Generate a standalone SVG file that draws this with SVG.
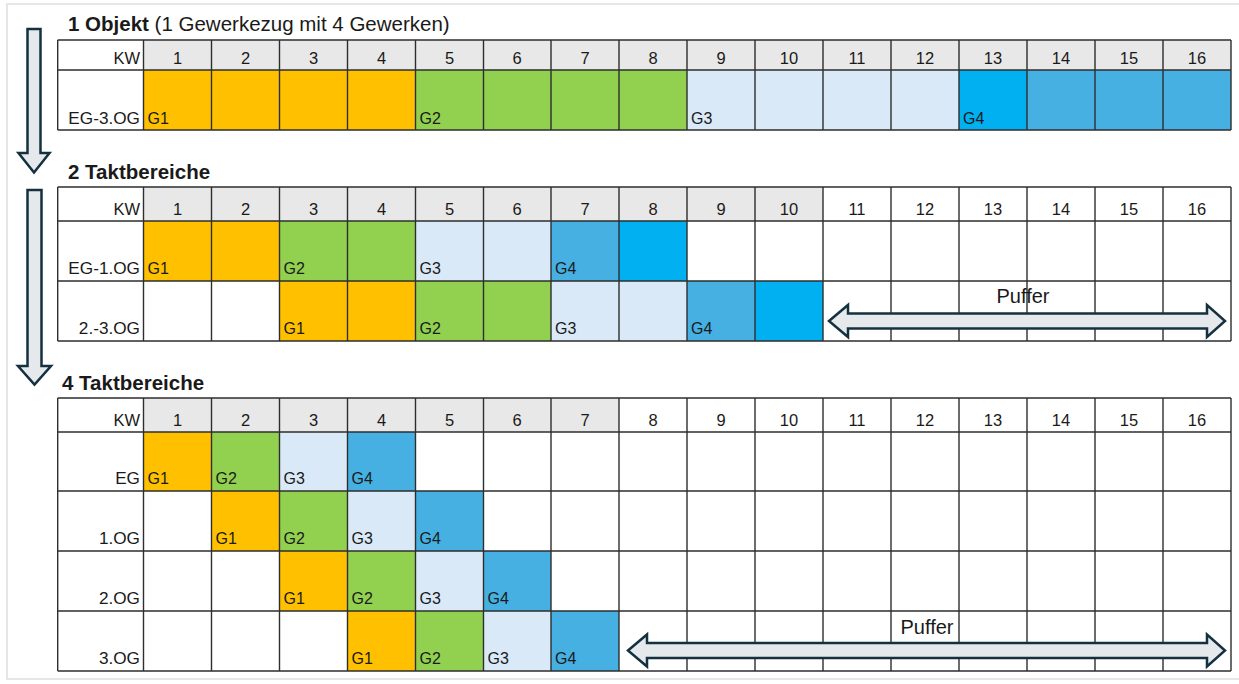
<svg xmlns="http://www.w3.org/2000/svg" width="1239" height="684" viewBox="0 0 1239 684">
<style>
.t{font-family:"Liberation Sans",Arial,sans-serif;fill:#1a1a1a}
.ttl{font-size:20.5px}
.b{font-weight:bold}
.h{font-size:16.5px;text-anchor:middle}
.kw{font-size:16.5px;text-anchor:end}
.rl{font-size:17.2px;text-anchor:end}
.g{font-size:16px}
.pf{font-size:20px;text-anchor:middle}
.grid{fill:none;stroke:#2e2e2e;stroke-width:1.4}
.hd{fill:#e8e8e8}
.o{fill:#FFC000}
.gr{fill:#92D050}
.lb{fill:#DAE9F7}
.mb{fill:#45B0E1}
.bb{fill:#00B0F0}
.arr{fill:#e6e9eb;stroke:#15303f;stroke-width:2.5;stroke-linejoin:miter}
</style>
<rect x="0" y="0" width="1239" height="684" fill="#ffffff"/>
<rect x="7" y="4" width="1240" height="675" fill="none" stroke="#e6e6e6" stroke-width="2"/>

<g id="table1">
<text class="t ttl" x="68" y="31"><tspan class="b">1 Objekt</tspan> (1 Gewerkezug mit 4 Gewerken)</text>
<rect class="hd" x="143.5" y="40" width="1087.5" height="30"/>
<rect class="o" x="143.5" y="70" width="272" height="60"/>
<rect class="gr" x="415.5" y="70" width="271.5" height="60"/>
<rect class="lb" x="687" y="70" width="272" height="60"/>
<rect class="bb" x="959" y="70" width="68" height="60"/>
<rect class="mb" x="1027" y="70" width="204" height="60"/>
<path class="grid" d="M57.7,40H1231M57.7,70H1231M57.7,130H1231M57.7,40V130M143.5,40V130M211.5,40V130M279.5,40V130M347.5,40V130M415.5,40V130M483.5,40V130M551,40V130M619,40V130M687,40V130M755,40V130M823,40V130M891,40V130M959,40V130M1027,40V130M1095,40V130M1163,40V130M1231,40V130"/>
<g class="t h">
<text x="177.5" y="63.5">1</text><text x="245.5" y="63.5">2</text><text x="313.5" y="63.5">3</text><text x="381.5" y="63.5">4</text><text x="449.5" y="63.5">5</text><text x="517" y="63.5">6</text><text x="585" y="63.5">7</text><text x="653" y="63.5">8</text><text x="721" y="63.5">9</text><text x="789" y="63.5">10</text><text x="857" y="63.5">11</text><text x="925" y="63.5">12</text><text x="993" y="63.5">13</text><text x="1061" y="63.5">14</text><text x="1129" y="63.5">15</text><text x="1197" y="63.5">16</text>
</g>
<text class="t kw" x="140" y="63.5">KW</text>
<text class="t rl" x="140" y="123.5">EG-3.OG</text>
<g class="t g">
<text x="147.5" y="123.5">G1</text><text x="419.5" y="123.5">G2</text><text x="691" y="123.5">G3</text><text x="963" y="123.5">G4</text>
</g>
</g>

<g id="table2">
<text class="t ttl b" x="68" y="179">2 Taktbereiche</text>
<rect class="hd" x="143.5" y="187" width="679.5" height="34"/>
<rect class="o" x="143.5" y="221" width="136" height="60"/>
<rect class="gr" x="279.5" y="221" width="136" height="60"/>
<rect class="lb" x="415.5" y="221" width="135.5" height="60"/>
<rect class="mb" x="551" y="221" width="68" height="60"/>
<rect class="bb" x="619" y="221" width="68" height="60"/>
<rect class="o" x="279.5" y="281" width="136" height="60"/>
<rect class="gr" x="415.5" y="281" width="135.5" height="60"/>
<rect class="lb" x="551" y="281" width="136" height="60"/>
<rect class="mb" x="687" y="281" width="68" height="60"/>
<rect class="bb" x="755" y="281" width="68" height="60"/>
<path class="grid" d="M57.7,187H1231M57.7,221H1231M57.7,281H1231M57.7,341H1231M57.7,187V341M143.5,187V341M211.5,187V341M279.5,187V341M347.5,187V341M415.5,187V341M483.5,187V341M551,187V341M619,187V341M687,187V341M755,187V341M823,187V341M891,187V341M959,187V341M1027,187V341M1095,187V341M1163,187V341M1231,187V341"/>
<g class="t h">
<text x="177.5" y="215">1</text><text x="245.5" y="215">2</text><text x="313.5" y="215">3</text><text x="381.5" y="215">4</text><text x="449.5" y="215">5</text><text x="517" y="215">6</text><text x="585" y="215">7</text><text x="653" y="215">8</text><text x="721" y="215">9</text><text x="789" y="215">10</text><text x="857" y="215">11</text><text x="925" y="215">12</text><text x="993" y="215">13</text><text x="1061" y="215">14</text><text x="1129" y="215">15</text><text x="1197" y="215">16</text>
</g>
<text class="t kw" x="140" y="215">KW</text>
<text class="t rl" x="140" y="273.5">EG-1.OG</text>
<text class="t rl" x="140" y="333.5">2.-3.OG</text>
<g class="t g">
<text x="147.5" y="273.5">G1</text><text x="283.5" y="273.5">G2</text><text x="419.5" y="273.5">G3</text><text x="555" y="273.5">G4</text>
<text x="283.5" y="333.5">G1</text><text x="419.5" y="333.5">G2</text><text x="555" y="333.5">G3</text><text x="691" y="333.5">G4</text>
</g>
<text class="t pf" x="1023" y="303">Puffer</text>
</g>

<g id="table3">
<text class="t ttl b" x="62" y="390">4 Taktbereiche</text>
<rect class="hd" x="143.5" y="398" width="475.5" height="34"/>
<rect class="o" x="143.5" y="432" width="68" height="59"/>
<rect class="gr" x="211.5" y="432" width="68" height="59"/>
<rect class="lb" x="279.5" y="432" width="68" height="59"/>
<rect class="mb" x="347.5" y="432" width="68" height="59"/>
<rect class="o" x="211.5" y="491" width="68" height="60"/>
<rect class="gr" x="279.5" y="491" width="68" height="60"/>
<rect class="lb" x="347.5" y="491" width="68" height="60"/>
<rect class="mb" x="415.5" y="491" width="68" height="60"/>
<rect class="o" x="279.5" y="551" width="68" height="60"/>
<rect class="gr" x="347.5" y="551" width="68" height="60"/>
<rect class="lb" x="415.5" y="551" width="68" height="60"/>
<rect class="mb" x="483.5" y="551" width="67.5" height="60"/>
<rect class="o" x="347.5" y="611" width="68" height="60"/>
<rect class="gr" x="415.5" y="611" width="68" height="60"/>
<rect class="lb" x="483.5" y="611" width="67.5" height="60"/>
<rect class="mb" x="551" y="611" width="68" height="60"/>
<path class="grid" d="M57.7,398H1231M57.7,432H1231M57.7,491H1231M57.7,551H1231M57.7,611H1231M57.7,671H1231M57.7,398V671M143.5,398V671M211.5,398V671M279.5,398V671M347.5,398V671M415.5,398V671M483.5,398V671M551,398V671M619,398V671M687,398V671M755,398V671M823,398V671M891,398V671M959,398V671M1027,398V671M1095,398V671M1163,398V671M1231,398V671"/>
<g class="t h">
<text x="177.5" y="426">1</text><text x="245.5" y="426">2</text><text x="313.5" y="426">3</text><text x="381.5" y="426">4</text><text x="449.5" y="426">5</text><text x="517" y="426">6</text><text x="585" y="426">7</text><text x="653" y="426">8</text><text x="721" y="426">9</text><text x="789" y="426">10</text><text x="857" y="426">11</text><text x="925" y="426">12</text><text x="993" y="426">13</text><text x="1061" y="426">14</text><text x="1129" y="426">15</text><text x="1197" y="426">16</text>
</g>
<text class="t kw" x="140" y="426">KW</text>
<text class="t rl" x="140" y="483.5">EG</text>
<text class="t rl" x="140" y="543.5">1.OG</text>
<text class="t rl" x="140" y="603.5">2.OG</text>
<text class="t rl" x="140" y="663.5">3.OG</text>
<g class="t g">
<text x="147.5" y="483.5">G1</text><text x="215.5" y="483.5">G2</text><text x="283.5" y="483.5">G3</text><text x="351.5" y="483.5">G4</text>
<text x="215.5" y="543.5">G1</text><text x="283.5" y="543.5">G2</text><text x="351.5" y="543.5">G3</text><text x="419.5" y="543.5">G4</text>
<text x="283.5" y="603.5">G1</text><text x="351.5" y="603.5">G2</text><text x="419.5" y="603.5">G3</text><text x="487.5" y="603.5">G4</text>
<text x="351.5" y="663.5">G1</text><text x="419.5" y="663.5">G2</text><text x="487.5" y="663.5">G3</text><text x="555" y="663.5">G4</text>
</g>
<text class="t pf" x="927" y="634">Puffer</text>
</g>

<g id="connectors">
<path class="arr" d="M27.5,29H40.5V153H49.5L34,172.5L18.5,153H27.5Z"/>
<path class="arr" d="M27.5,190H41.5V366H51L34.5,384.5L18,366H27.5Z"/>
<path class="arr" d="M829,321L848,305V313.5H1207V305L1225,321L1207,337V328.5H848V337Z"/>
<path class="arr" d="M628,650.5L647,634.5V643H1207V634.5L1225,650.5L1207,666.5V658H647V666.5Z"/>
</g>
</svg>
